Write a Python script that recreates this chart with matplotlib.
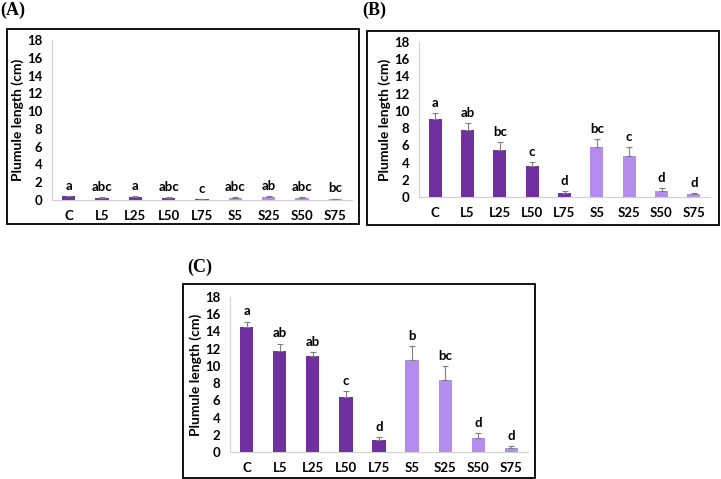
import numpy as np
import matplotlib.pyplot as plt
from matplotlib.patches import Rectangle

cats = ["C", "L5", "L25", "L50", "L75", "S5", "S25", "S50", "S75"]

a_vals = [0.42, 0.28, 0.38, 0.28, 0.08, 0.28, 0.34, 0.28, 0.12]
a_err = [0.06, 0.05, 0.06, 0.05, 0.03, 0.05, 0.06, 0.05, 0.04]
a_let = ["a", "abc", "a", "abc", "c", "abc", "ab", "abc", "bc"]

b_vals = [9.1, 7.8, 5.5, 3.6, 0.45, 5.8, 4.8, 0.75, 0.33]
b_err = [0.65, 0.8, 0.85, 0.5, 0.2, 0.9, 1.0, 0.3, 0.12]
b_let = ["a", "ab", "bc", "c", "d", "bc", "c", "d", "d"]

c_vals = [14.5, 11.7, 11.2, 6.35, 1.35, 10.7, 8.4, 1.6, 0.5]
c_err = [0.65, 0.9, 0.45, 0.75, 0.4, 1.6, 1.6, 0.55, 0.2]
c_let = ["a", "ab", "ab", "c", "d", "b", "bc", "d", "d"]

dark = "#7030a0"
light = "#b48cee"
colors = [dark] * 5 + [light] * 4

W, H = 721, 479
fig = plt.figure(figsize=(W / 100, H / 100), dpi=100)
plt.rcParams['font.family'] = ['Lato', 'DejaVu Sans']


def px_axes(x0, y0, x1, y1):
    return fig.add_axes([x0 / W, 1 - y1 / H, (x1 - x0) / W, (y1 - y0) / H])


def frame(x0, y0, x1, y1):
    fig.patches.append(Rectangle((x0 / W, 1 - y1 / H), (x1 - x0) / W, (y1 - y0) / H,
                                 transform=fig.transFigure, fill=False,
                                 edgecolor="black", linewidth=1.3))


def panel(ax, vals, err, letters):
    x = np.arange(len(cats))
    ax.bar(x, vals, width=0.4, color=colors, zorder=2)
    ax.errorbar(x, vals, yerr=[np.zeros(len(vals)), err], fmt="none",
                ecolor="#7f7f7f", elinewidth=0.8, capsize=2, capthick=0.8, zorder=3)
    for xi, v, e, t in zip(x, vals, err, letters):
        ax.annotate(t, (xi, v + e), xytext=(0, 3), textcoords="offset points",
                    ha="center", va="bottom", fontsize=9.5, fontweight="bold")
    ax.set_xlim(-0.5, 8.5)
    ax.set_ylim(0, 18)
    ax.set_yticks(range(0, 19, 2))
    ax.set_xticks(x)
    ax.set_xticklabels(cats)
    for s in ["top", "right"]:
        ax.spines[s].set_visible(False)
    for s in ["left", "bottom"]:
        ax.spines[s].set_color("#d0d0d0")
        ax.spines[s].set_linewidth(0.8)
    ax.tick_params(length=0, labelsize=9.5)
    ax.tick_params(axis="x", pad=7)
    ax.tick_params(axis="y", pad=7)
    for lab in ax.get_xticklabels() + ax.get_yticklabels():
        lab.set_fontweight("bold")
    ax.set_ylabel("Plumule length (cm)", fontsize=10, fontweight="bold", labelpad=2)
    ax.set_facecolor("none")


frame(7, 29, 359, 224)
frame(367, 31, 719, 225)
frame(183, 284, 535, 478)

axA = px_axes(52, 40, 352, 200)
panel(axA, a_vals, a_err, a_let)
axB = px_axes(419, 42, 710, 197)
panel(axB, b_vals, b_err, b_let)
axC = px_axes(230, 297, 528, 452)
panel(axC, c_vals, c_err, c_let)

for txt, x, y in [("(A)", 0, 10), ("(B)", 362, 10), ("(C)", 187, 267)]:
    fig.text(x / W, 1 - y / H, txt, family="Liberation Serif", fontweight="bold",
             fontsize=13, ha="left", va="center")

fig.savefig("out.png", dpi=100)
